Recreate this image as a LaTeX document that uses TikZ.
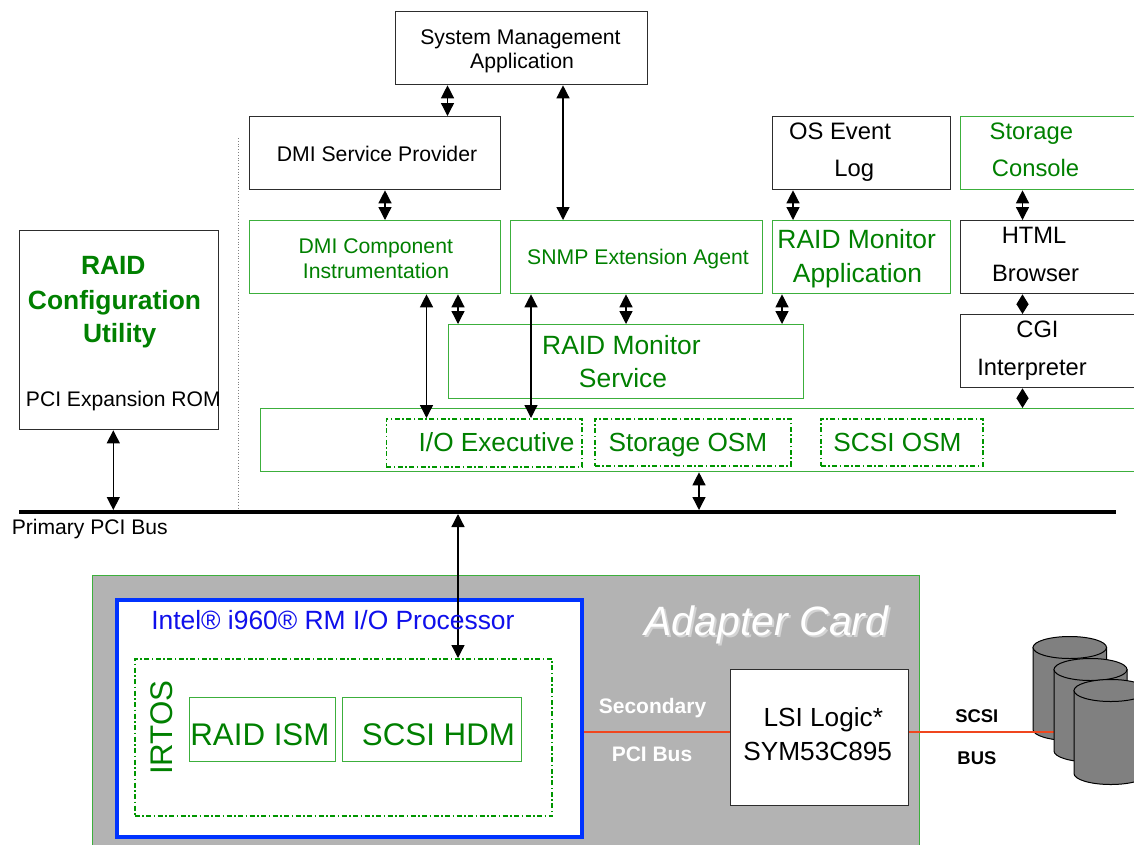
\documentclass[tikz,border=0pt]{standalone}
\usepackage{fontspec}
\setmainfont{Liberation Sans}
\usetikzlibrary{arrows.meta}
\definecolor{gtext}{RGB}{0,128,0}
\definecolor{gline}{RGB}{60,175,60}
\definecolor{gdash}{RGB}{0,150,0}
\definecolor{bline}{RGB}{45,45,45}
\definecolor{iblue}{RGB}{0,51,255}
\definecolor{itext}{RGB}{15,15,235}
\definecolor{cardgray}{RGB}{179,179,179}
\definecolor{scsired}{RGB}{240,70,30}
\definecolor{diskgray}{RGB}{128,128,128}
\definecolor{shadowgray}{RGB}{212,212,212}
\newcommand\fsz[1]{\fontsize{#1}{#1}\selectfont}
\begin{document}
\begin{tikzpicture}[x=1pt,y=-1pt,
  bbox/.style={draw=bline, line width=1.3pt, fill=white, inner sep=0pt, anchor=north west},
  gbox/.style={draw=gline, line width=1.3pt, fill=white, inner sep=0pt, anchor=north west},
  dbox/.style={draw=gdash, line width=1.7pt, dash pattern=on 5pt off 2.5pt on 1.5pt off 2.5pt, inner sep=0pt, anchor=north west},
  txt/.style={inner sep=0pt, anchor=base},
  biarrow/.style={{Triangle[length=13pt,width=13pt]}-{Triangle[length=13pt,width=13pt]}, line width=1.3pt},
  smallarrow/.style={{Triangle[length=10pt,width=12pt]}-{Triangle[length=10pt,width=12pt]}, line width=1.3pt},
  disk/.style={fill=diskgray, draw=black, line width=1pt},
]
\useasboundingbox (0,0) rectangle (1134,844);
\clip (0,0) rectangle (1134,844);
\fill[white] (0,0) rectangle (1134,844);

% coordinates
\coordinate (c447) at (447.5,0);
\coordinate (c563) at (563,0);
\coordinate (c385) at (385,0);
\coordinate (c793) at (793,0);
\coordinate (c1022) at (1022.5,0);
\coordinate (c426) at (426.5,0);
\coordinate (c531) at (531,0);
\coordinate (c458) at (458,0);
\coordinate (c626) at (626,0);
\coordinate (c782) at (782,0);
\coordinate (c699) at (699,0);
\coordinate (c113) at (113.3,0);
\coordinate (busL) at (19,512);
\coordinate (busR) at (1116,512);
\coordinate (busTop) at (0,510);
\coordinate (busBot) at (0,514);
\coordinate (dotT) at (238.5,138);
\coordinate (dotB) at (238.5,510);
\coordinate (cred) at (0,731.7);
\coordinate (diskin) at (1054,731.7);

% dotted separator
\draw[gray, dotted, line width=0.8pt] (dotT) -- (dotB);

% host boxes
\node[bbox, minimum width=252, minimum height=73] (sma) at (395,11) {};
\node[bbox, minimum width=251, minimum height=73] (dmisp) at (249,116) {};
\node[gbox, minimum width=251, minimum height=73] (dmici) at (249,220) {};
\node[gbox, minimum width=252, minimum height=73] (snmp) at (510,220) {};
\node[bbox, minimum width=178, minimum height=73] (oslog) at (772,116) {};
\node[gbox, minimum width=200, minimum height=73] (stcon) at (960,116) {};
\node[gbox, minimum width=178, minimum height=73] (rma) at (772,220) {};
\node[bbox, minimum width=200, minimum height=73] (html) at (960,220) {};
\node[bbox, minimum width=200, minimum height=73] (cgi) at (960,314) {};
\node[gbox, minimum width=355.5, minimum height=74] (rms) at (447.5,324) {};
\node[gbox, minimum width=900, minimum height=63] (exec) at (259.5,408) {};
\node[dbox, minimum width=195.5, minimum height=48] (ioe) at (385.5,418) {};
\node[dbox, minimum width=196, minimum height=47] (sosm) at (594,418) {};
\node[dbox, minimum width=162, minimum height=47] (scosm) at (820,418) {};
\node[bbox, minimum width=199, minimum height=199] (rcu) at (19,230) {};

% bus
\draw[line width=4pt] (busL) -- (busR);

% adapter card
\node[draw=gline, line width=1pt, fill=cardgray, inner sep=0pt, anchor=north west, minimum width=826.5, minimum height=330] (card) at (92,575) {};
\node[draw=iblue, line width=4pt, fill=white, inner sep=0pt, anchor=north west, minimum width=465, minimum height=237] (intel) at (114.5,597.5) {};
\node[dbox, line width=2pt, minimum width=417.5, minimum height=157] (irtos) at (133.5,658) {};
\node[gbox, minimum width=145.5, minimum height=64] (rism) at (189,697) {};
\node[gbox, minimum width=179, minimum height=64] (shdm) at (342,697) {};
\node[bbox, minimum width=178, minimum height=136] (lsi) at (730,669) {};

% red bus lines and disks
\draw[scsired, line width=1.6pt] (intel.east |- cred) -- (lsi.west |- cred);
\filldraw[disk] (1033,647.5) -- (1033,729.5) arc[start angle=180, end angle=360, x radius=36.75pt, y radius=11pt] -- (1106.5,647.5) -- cycle;
\filldraw[disk] (1069.75,647.5) ellipse[x radius=36.75pt, y radius=11pt];
\draw[scsired, line width=1.6pt] (lsi.east |- cred) -- (diskin);
\filldraw[disk] (1054,669.5) -- (1054,751) arc[start angle=180, end angle=360, x radius=36.5pt, y radius=11pt] -- (1127,669.5) -- cycle;
\filldraw[disk] (1090.5,669.5) ellipse[x radius=36.5pt, y radius=11pt];
\filldraw[disk] (1074,690.5) -- (1074,773.5) arc[start angle=180, end angle=360, x radius=36.75pt, y radius=11pt] -- (1147.5,690.5) -- cycle;
\filldraw[disk] (1110.75,690.5) ellipse[x radius=36.75pt, y radius=11pt];

% connectors
\draw[biarrow] (sma.south -| c447) -- (dmisp.north -| c447);
\draw[biarrow] (sma.south -| c563) -- (snmp.north -| c563);
\draw[biarrow] (dmisp.south -| c385) -- (dmici.north -| c385);
\draw[biarrow] (oslog.south -| c793) -- (rma.north -| c793);
\draw[biarrow] (stcon.south -| c1022) -- (html.north -| c1022);
\draw[smallarrow] (html.south -| c1022) -- (cgi.north -| c1022);
\draw[smallarrow] (cgi.south -| c1022) -- (exec.north -| c1022);
\draw[biarrow] (dmici.south -| c426) -- (ioe.north -| c426);
\draw[biarrow] (snmp.south -| c531) -- (ioe.north -| c531);
\draw[biarrow] (dmici.south -| c458) -- (rms.north -| c458);
\draw[biarrow] (snmp.south -| c626) -- (rms.north -| c626);
\draw[biarrow] (rma.south -| c782) -- (rms.north -| c782);
\draw[biarrow] (exec.south -| c699) -- (c699 |- busTop);
\draw[biarrow] (rcu.south -| c113) -- (c113 |- busTop);
\draw[biarrow] (c458 |- busBot) -- (irtos.north -| c458);

% texts
\node[txt] (t1) at (520.5,44) {\fsz{21.2}System Management};
\node[txt] (t2) at (522,68.5) {\fsz{21.2}Application};
\node[txt] (t3) at (377,161.7) {\fsz{21.2}DMI Service Provider};
\node[txt, text=gtext] (t4) at (375.8,253) {\fsz{21.2}DMI Component};
\node[txt, text=gtext] (t5) at (376,278) {\fsz{21.2}Instrumentation};
\node[txt, text=gtext] (t6) at (638,264) {\fsz{21.2}SNMP Extension Agent};
\node[txt] (t7) at (840,139) {\fsz{23.8}OS Event};
\node[txt] (t8) at (854.3,176) {\fsz{23.8}Log};
\node[txt, text=gtext] (t9) at (1031.3,139) {\fsz{23.8}Storage};
\node[txt, text=gtext] (t10) at (1035.5,176) {\fsz{23.8}Console};
\node[txt, text=gtext] (t11) at (856.7,248.3) {\fsz{26.4}RAID Monitor};
\node[txt, text=gtext] (t12) at (857.5,282.7) {\fsz{26.4}Application};
\node[txt] (t13) at (1034,243.3) {\fsz{23.7}HTML};
\node[txt] (t14) at (1035.5,281) {\fsz{23.7}Browser};
\node[txt] (t15) at (1037.5,337.3) {\fsz{23.7}CGI};
\node[txt] (t16) at (1032,375) {\fsz{23.7}Interpreter};
\node[txt, text=gtext] (t17) at (621.4,354.3) {\fsz{26.4}RAID Monitor};
\node[txt, text=gtext] (t18) at (623,387.7) {\fsz{26.4}Service};
\node[txt, text=gtext] (t19) at (496.6,451.7) {\fsz{26.2}I/O Executive};
\node[txt, text=gtext] (t20) at (687.9,451.7) {\fsz{26.2}Storage OSM};
\node[txt, text=gtext] (t21) at (897.5,451.7) {\fsz{26.2}SCSI OSM};
\node[txt, text=gtext] (t22) at (113.3,274.3) {\fsz{26.4}\bfseries RAID};
\node[txt, text=gtext] (t23) at (114.5,309) {\fsz{26.4}\bfseries Configuration};
\node[txt, text=gtext] (t24) at (119.7,342.7) {\fsz{26.4}\bfseries Utility};
\node[txt] (t25) at (123.3,406.7) {\fsz{21.1}PCI Expansion ROM};
\node[txt] (t26) at (89.8,534) {\fsz{21.1}Primary PCI Bus};
\node[txt, text=itext] (t27) at (332.9,629.3) {\fsz{26.4}Intel® i960® RM I/O Processor};
\node[txt, text=gtext, rotate=90] (t28) at (172.9,727.5) {\fsz{31.3}IRTOS};
\node[txt, text=gtext] (t29) at (259.9,745) {\fsz{31.3}RAID ISM};
\node[txt, text=gtext] (t30) at (438.5,745) {\fsz{31.3}SCSI HDM};
\node[txt, text=white] (t31) at (652.5,713.3) {\fsz{21}\bfseries Secondary};
\node[txt, text=white] (t32) at (652,761.7) {\fsz{21}\bfseries PCI Bus};
\node[txt] (t33) at (823.3,726.7) {\fsz{26.2}LSI Logic*};
\node[txt] (t34) at (817.7,760) {\fsz{26.2}SYM53C895};
\node[txt] (t35) at (976.8,722.3) {\fsz{18.4}\bfseries SCSI};
\node[txt] (t36) at (976.9,764) {\fsz{18.4}\bfseries BUS};
\node[txt, text=shadowgray] (t37s) at (768.4,637) {\fsz{41}\itshape Adapter Card};
\node[txt, text=white] (t37) at (766.4,635) {\fsz{41}\itshape Adapter Card};
\end{tikzpicture}
\end{document}
